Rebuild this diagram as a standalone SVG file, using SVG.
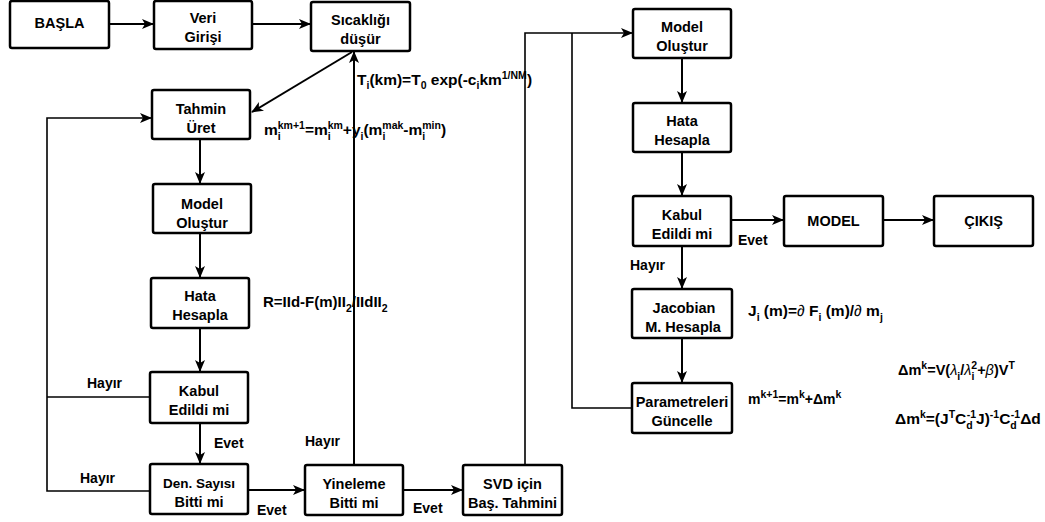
<svg xmlns="http://www.w3.org/2000/svg" width="1045" height="522" viewBox="0 0 1045 522">
<style>
.box{fill:#fff;stroke:#000;stroke-width:2.5}
.t{font-family:"Liberation Sans",Arial,sans-serif;font-weight:bold;font-size:14.5px;fill:#000;text-anchor:middle}
.l{font-family:"Liberation Sans",Arial,sans-serif;font-weight:bold;font-size:14px;fill:#000}
.f{font-family:"Liberation Sans",Arial,sans-serif;font-weight:bold;font-size:15.5px;fill:#000}
.c{fill:none;stroke:#000;stroke-width:2}
.c2{fill:none;stroke:#000;stroke-width:1.6}
.s{font-size:10.5px}
.it{font-style:italic;font-weight:normal}
</style>
<defs>
<marker id="ah" markerWidth="12" markerHeight="10" refX="11" refY="5" orient="auto" markerUnits="userSpaceOnUse"><path d="M0,0 L12,5 L0,10 L3,5 z" fill="#000"/></marker>
</defs>
<g id="connectors">
<path class="c" d="M109,24 H153" marker-end="url(#ah)"/>
<path class="c" d="M252,24 H310" marker-end="url(#ah)"/>
<path class="c" d="M352,52 L252,112" marker-end="url(#ah)"/>
<path class="c" d="M200,139 V183" marker-end="url(#ah)"/>
<path class="c" d="M200,233 V277" marker-end="url(#ah)"/>
<path class="c" d="M200,328 V371" marker-end="url(#ah)"/>
<path class="c" d="M200,423 V463" marker-end="url(#ah)"/>
<path class="c" d="M248,490 H304" marker-end="url(#ah)"/>
<path class="c" d="M403,490 H462" marker-end="url(#ah)"/>
<path class="c" d="M354,465 V52" marker-end="url(#ah)"/>
<path class="c2" d="M150,397 H47"/>
<path class="c2" d="M150,491 H47 V118 H151" marker-end="url(#ah)"/>
<path class="c2" d="M525,465 V33 H632" marker-end="url(#ah)"/>
<path class="c2" d="M632,408 H572 V33"/>
<path class="c" d="M682,58 V102" marker-end="url(#ah)"/>
<path class="c" d="M682,152 V195" marker-end="url(#ah)"/>
<path class="c" d="M731,220 H783" marker-end="url(#ah)"/>
<path class="c" d="M883,220 H933" marker-end="url(#ah)"/>
<path class="c" d="M682,246 V288" marker-end="url(#ah)"/>
<path class="c" d="M682,338 V382" marker-end="url(#ah)"/>
</g>
<g id="basla"><rect class="box" x="10" y="1" width="99" height="47" rx="2"/><text class="t" x="59.5" y="28">BAŞLA</text></g>
<g id="veri"><rect class="box" x="154" y="1" width="98" height="48" rx="2"/><text class="t" x="203" y="23">Veri</text><text class="t" x="203" y="42">Girişi</text></g>
<g id="sicaklik"><rect class="box" x="311" y="2" width="99" height="49" rx="2"/><text class="t" x="360.5" y="25">Sıcaklığı</text><text class="t" x="360.5" y="44">düşür</text></g>
<g id="tahmin"><rect class="box" x="152" y="90" width="98" height="49" rx="2"/><text class="t" x="201" y="114">Tahmin</text><text class="t" x="201" y="133">Üret</text></g>
<g id="model1"><rect class="box" x="153" y="184" width="98" height="49" rx="2"/><text class="t" x="202" y="209">Model</text><text class="t" x="202" y="228">Oluştur</text></g>
<g id="hata1"><rect class="box" x="151" y="278" width="98" height="50" rx="2"/><text class="t" x="200" y="301">Hata</text><text class="t" x="200" y="320">Hesapla</text></g>
<g id="kabul1"><rect class="box" x="150" y="372" width="98" height="51" rx="2"/><text class="t" x="199" y="396">Kabul</text><text class="t" x="199" y="415">Edildi mi</text></g>
<g id="densayisi"><rect class="box" x="150" y="464" width="98" height="50" rx="2"/><text class="t" x="199" y="488" style="font-size:13.5px">Den. Sayısı</text><text class="t" x="199" y="507">Bitti mi</text></g>
<g id="yineleme"><rect class="box" x="305" y="465" width="98" height="50" rx="2"/><text class="t" x="354" y="489">Yineleme</text><text class="t" x="354" y="508">Bitti mi</text></g>
<g id="svd"><rect class="box" x="463" y="465" width="99" height="50" rx="2"/><text class="t" x="512.5" y="489">SVD için</text><text class="t" x="512.5" y="508">Baş. Tahmini</text></g>
<g id="model2"><rect class="box" x="633" y="9" width="98" height="49" rx="2"/><text class="t" x="682" y="32">Model</text><text class="t" x="682" y="51">Oluştur</text></g>
<g id="hata2"><rect class="box" x="633" y="103" width="98" height="49" rx="2"/><text class="t" x="682" y="126">Hata</text><text class="t" x="682" y="145">Hesapla</text></g>
<g id="kabul2"><rect class="box" x="633" y="196" width="98" height="50" rx="2"/><text class="t" x="682" y="220">Kabul</text><text class="t" x="682" y="239">Edildi mi</text></g>
<g id="modelbox"><rect class="box" x="784" y="196" width="99" height="50" rx="2"/><text class="t" x="833.5" y="226">MODEL</text></g>
<g id="cikis"><rect class="box" x="934" y="196" width="99" height="50" rx="2"/><text class="t" x="983.5" y="226">ÇIKIŞ</text></g>
<g id="jacobian"><rect class="box" x="632" y="289" width="100" height="49" rx="2"/><text class="t" x="684" y="313">Jacobian</text><text class="t" x="683" y="332">M. Hesapla</text></g>
<g id="parametreleri"><rect class="box" x="632" y="383" width="100" height="50" rx="2"/><text class="t" x="682" y="407">Parametreleri</text><text class="t" x="682" y="426">Güncelle</text></g>
<g id="labels">
<text class="l" x="87" y="388">Hayır</text>
<text class="l" x="80" y="483">Hayır</text>
<text class="l" x="214" y="448">Evet</text>
<text class="l" x="257" y="515">Evet</text>
<text class="l" x="305" y="446">Hayır</text>
<text class="l" x="413" y="513">Evet</text>
<text class="l" x="738" y="245">Evet</text>
<text class="l" x="630" y="270">Hayır</text>
</g>
<g id="formulas">
<text class="f" x="357" y="85">T<tspan class="s" baseline-shift="-4">i</tspan>(km)=T<tspan class="s" baseline-shift="-4">0</tspan> exp(-c<tspan class="s" baseline-shift="-4">i</tspan>km<tspan class="s" baseline-shift="6">1/NM</tspan>)</text>
<text class="f" x="264" y="135">m<tspan class="s" baseline-shift="-5">i</tspan><tspan class="s" dx="-3" baseline-shift="6">km+1</tspan>=m<tspan class="s" baseline-shift="-5">i</tspan><tspan class="s" dx="-3" baseline-shift="6">km</tspan>+y<tspan class="s" baseline-shift="-5">i</tspan>(m<tspan class="s" baseline-shift="-5">i</tspan><tspan class="s" dx="-3" baseline-shift="6">mak</tspan>-m<tspan class="s" baseline-shift="-5">i</tspan><tspan class="s" dx="-3" baseline-shift="6">min</tspan>)</text>
<text class="f" x="263" y="307" style="font-size:15px">R=IId-F(m)II<tspan class="s" baseline-shift="-5">2</tspan>/IIdII<tspan class="s" baseline-shift="-5">2</tspan></text>
<text class="f" x="748" y="316">J<tspan class="s" baseline-shift="-5">i</tspan> (m)=<tspan class="it">∂</tspan> F<tspan class="s" baseline-shift="-5">i</tspan> (m)/<tspan class="it">∂</tspan> m<tspan class="s" baseline-shift="-5">j</tspan></text>
<text class="f" x="898" y="375" style="font-size:14.5px">Δm<tspan class="s" baseline-shift="6">k</tspan>=V(<tspan class="it">λ</tspan><tspan class="s" baseline-shift="-5">i</tspan>/<tspan class="it">λ</tspan><tspan class="s" baseline-shift="-5">i</tspan><tspan class="s" dx="-3" baseline-shift="6">2</tspan>+<tspan class="it">β</tspan>)V<tspan class="s" baseline-shift="6">T</tspan></text>
<text class="f" x="748" y="404" style="font-size:14px">m<tspan class="s" baseline-shift="6">k+1</tspan>=m<tspan class="s" baseline-shift="6">k</tspan>+Δm<tspan class="s" baseline-shift="6">k</tspan></text>
<text class="f" x="895" y="424">Δm<tspan class="s" baseline-shift="6">k</tspan>=(J<tspan class="s" baseline-shift="6">T</tspan>C<tspan class="s" baseline-shift="-5">d</tspan><tspan class="s" dx="-6" baseline-shift="6">-1</tspan>J)<tspan class="s" baseline-shift="6">-1</tspan>C<tspan class="s" baseline-shift="-5">d</tspan><tspan class="s" dx="-6" baseline-shift="6">-1</tspan>Δd</text>
</g>
</svg>
